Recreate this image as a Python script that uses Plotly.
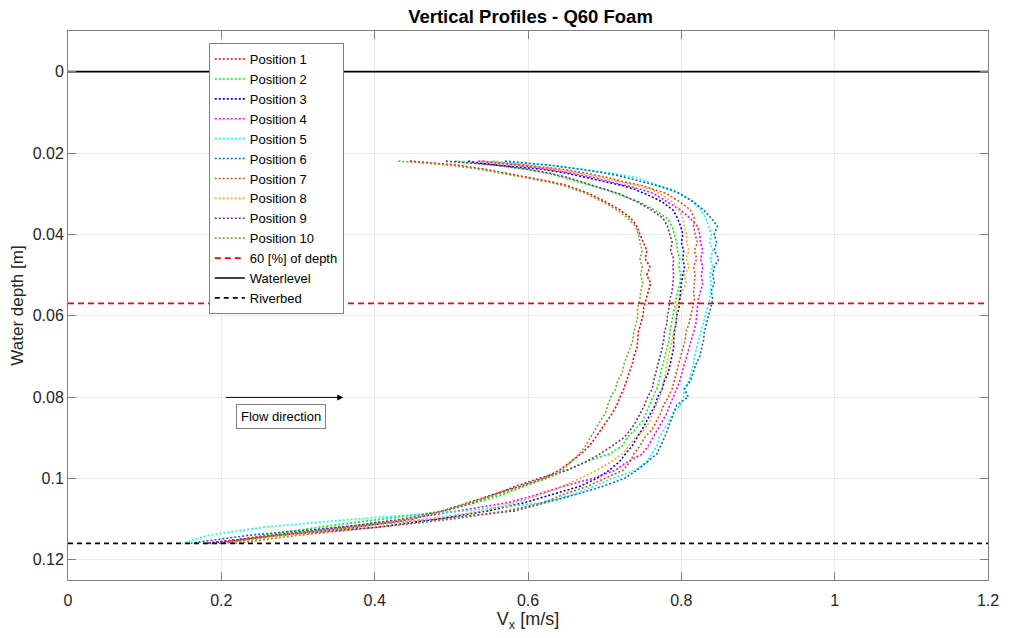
import plotly.graph_objects as go

# Measurement depths below the water surface [m]
depth = [0.022, 0.0225, 0.023, 0.024, 0.025, 0.026, 0.027, 0.028, 0.029, 0.030,
         0.032, 0.034, 0.036, 0.038, 0.040, 0.042, 0.044, 0.046, 0.048, 0.050,
         0.052, 0.054, 0.056, 0.058, 0.060, 0.062, 0.064, 0.066, 0.068, 0.070,
         0.072, 0.074, 0.076, 0.078, 0.080, 0.082, 0.084, 0.086, 0.088, 0.090,
         0.092, 0.094, 0.096, 0.098, 0.100, 0.102, 0.104, 0.106, 0.108, 0.110,
         0.112, 0.114, 0.116]

# Streamwise velocity Vx [m/s] per measuring position
vx_pos1 = [0.446, 0.483, 0.509, 0.544, 0.573, 0.599, 0.628, 0.651, 0.666, 0.680,
           0.701, 0.720, 0.734, 0.742, 0.746, 0.751, 0.755, 0.753, 0.759, 0.755,
           0.760, 0.757, 0.754, 0.751, 0.750, 0.747, 0.744, 0.743, 0.742, 0.738,
           0.736, 0.732, 0.729, 0.725, 0.720, 0.716, 0.710, 0.703, 0.695, 0.688,
           0.680, 0.669, 0.655, 0.641, 0.620, 0.589, 0.554, 0.522, 0.489, 0.450,
           0.376, 0.274, 0.184]
vx_pos2 = [0.505, 0.535, 0.560, 0.597, 0.625, 0.646, 0.664, 0.684, 0.701, 0.716,
           0.745, 0.765, 0.781, 0.788, 0.791, 0.794, 0.795, 0.798, 0.797, 0.799,
           0.798, 0.795, 0.793, 0.791, 0.789, 0.787, 0.785, 0.784, 0.781, 0.779,
           0.776, 0.773, 0.771, 0.768, 0.763, 0.759, 0.754, 0.749, 0.740, 0.729,
           0.723, 0.706, 0.674, 0.651, 0.623, 0.593, 0.567, 0.532, 0.493, 0.411,
           0.327, 0.256, 0.197]
vx_pos3 = [0.522, 0.538, 0.560, 0.619, 0.651, 0.677, 0.699, 0.723, 0.740, 0.753,
           0.775, 0.789, 0.795, 0.799, 0.802, 0.800, 0.803, 0.802, 0.804, 0.802,
           0.800, 0.799, 0.798, 0.797, 0.794, 0.793, 0.791, 0.790, 0.790, 0.788,
           0.785, 0.783, 0.778, 0.775, 0.769, 0.766, 0.760, 0.755, 0.749, 0.742,
           0.736, 0.727, 0.719, 0.706, 0.690, 0.667, 0.632, 0.595, 0.548, 0.483,
           0.405, 0.275, 0.178]
vx_pos4 = [0.535, 0.560, 0.586, 0.625, 0.658, 0.684, 0.706, 0.727, 0.749, 0.764,
           0.781, 0.799, 0.811, 0.821, 0.824, 0.825, 0.828, 0.825, 0.828, 0.826,
           0.828, 0.825, 0.822, 0.821, 0.820, 0.819, 0.816, 0.813, 0.811, 0.808,
           0.804, 0.802, 0.798, 0.794, 0.789, 0.785, 0.781, 0.775, 0.768, 0.762,
           0.757, 0.749, 0.729, 0.714, 0.685, 0.645, 0.612, 0.573, 0.509, 0.444,
           0.360, 0.265, 0.180]
vx_pos5 = [0.554, 0.599, 0.629, 0.671, 0.710, 0.740, 0.755, 0.771, 0.788, 0.799,
           0.815, 0.825, 0.832, 0.835, 0.839, 0.837, 0.841, 0.838, 0.841, 0.837,
           0.839, 0.838, 0.837, 0.834, 0.831, 0.829, 0.825, 0.822, 0.820, 0.817,
           0.816, 0.813, 0.810, 0.804, 0.803, 0.799, 0.789, 0.784, 0.777, 0.771,
           0.768, 0.761, 0.755, 0.740, 0.710, 0.685, 0.658, 0.619, 0.519, 0.375,
           0.256, 0.183, 0.149]
vx_pos6 = [0.570, 0.599, 0.629, 0.668, 0.703, 0.727, 0.749, 0.768, 0.785, 0.798,
           0.816, 0.829, 0.839, 0.847, 0.843, 0.846, 0.843, 0.849, 0.843, 0.841,
           0.843, 0.839, 0.841, 0.838, 0.835, 0.833, 0.830, 0.829, 0.826, 0.824,
           0.819, 0.816, 0.812, 0.804, 0.809, 0.794, 0.790, 0.786, 0.782, 0.778,
           0.773, 0.768, 0.755, 0.742, 0.726, 0.697, 0.662, 0.623, 0.583, 0.483,
           0.353, 0.236, 0.158]
vx_pos7 = [0.541, 0.573, 0.599, 0.645, 0.677, 0.703, 0.723, 0.749, 0.765, 0.781,
           0.798, 0.812, 0.817, 0.816, 0.818, 0.821, 0.817, 0.820, 0.816, 0.818,
           0.817, 0.816, 0.817, 0.815, 0.812, 0.810, 0.806, 0.805, 0.802, 0.799,
           0.797, 0.794, 0.790, 0.788, 0.783, 0.777, 0.773, 0.768, 0.762, 0.752,
           0.746, 0.738, 0.733, 0.724, 0.701, 0.677, 0.646, 0.619, 0.573, 0.502,
           0.405, 0.301, 0.217]
vx_pos8 = [0.538, 0.567, 0.593, 0.636, 0.668, 0.694, 0.719, 0.742, 0.762, 0.772,
           0.788, 0.797, 0.802, 0.804, 0.807, 0.807, 0.810, 0.806, 0.810, 0.804,
           0.806, 0.802, 0.797, 0.793, 0.794, 0.793, 0.790, 0.788, 0.785, 0.783,
           0.781, 0.780, 0.777, 0.775, 0.772, 0.767, 0.763, 0.759, 0.752, 0.740,
           0.732, 0.723, 0.708, 0.690, 0.668, 0.645, 0.616, 0.584, 0.541, 0.470,
           0.379, 0.288, 0.208]
vx_pos9 = [0.493, 0.528, 0.560, 0.599, 0.629, 0.651, 0.668, 0.686, 0.703, 0.719,
           0.742, 0.761, 0.776, 0.782, 0.785, 0.788, 0.786, 0.790, 0.789, 0.790,
           0.789, 0.788, 0.785, 0.784, 0.782, 0.781, 0.778, 0.777, 0.775, 0.772,
           0.769, 0.767, 0.764, 0.762, 0.756, 0.752, 0.747, 0.741, 0.734, 0.725,
           0.710, 0.694, 0.675, 0.651, 0.615, 0.583, 0.556, 0.528, 0.489, 0.437,
           0.358, 0.269, 0.197]
vx_pos10 = [0.431, 0.470, 0.498, 0.537, 0.567, 0.594, 0.623, 0.646, 0.662, 0.676,
            0.697, 0.716, 0.730, 0.740, 0.744, 0.746, 0.749, 0.746, 0.749, 0.747,
            0.750, 0.747, 0.746, 0.743, 0.743, 0.741, 0.738, 0.737, 0.733, 0.729,
            0.725, 0.723, 0.717, 0.714, 0.708, 0.704, 0.701, 0.694, 0.688, 0.682,
            0.675, 0.667, 0.656, 0.645, 0.625, 0.593, 0.560, 0.524, 0.489, 0.446,
            0.372, 0.275, 0.200]

profiles = [vx_pos1, vx_pos2, vx_pos3, vx_pos4, vx_pos5,
            vx_pos6, vx_pos7, vx_pos8, vx_pos9, vx_pos10]
profile_names = [f"Position {i}" for i in range(1, 11)]
profile_colors = ["#FF0000", "#00FF00", "#0000FF", "#FF00FF", "#00FFFF",
                  "#0072BD", "#D95319", "#EDB120", "#7E2F8E", "#77AC30"]

# Reference levels [m]
x_span = [0.0, 1.2]
water_level = 0.0
riverbed_level = 0.116
depth_60 = 0.057

# Flow direction arrow (start / end velocity and depth)
arrow_x = [0.204, 0.359]
arrow_y = 0.0801
arrow_label_pos = (0.278, 0.0849)

FONT = "Liberation Sans, Arial, Helvetica, sans-serif"
AXIS_GREY = "#808080"

fig = go.Figure()

for name, vx, color in zip(profile_names, profiles, profile_colors):
    fig.add_trace(go.Scatter(
        x=vx, y=depth, mode="lines", name=name,
        line=dict(color=color, width=1.6, dash="2px,2px"),
    ))

fig.add_trace(go.Scatter(
    x=x_span, y=[depth_60, depth_60], mode="lines", name="60 [%] of depth",
    line=dict(color="#FF0000", width=1.8, dash="6px,4px"),
))
fig.add_trace(go.Scatter(
    x=x_span, y=[water_level, water_level], mode="lines", name="Waterlevel",
    line=dict(color="#000000", width=1.6),
))
fig.add_trace(go.Scatter(
    x=x_span, y=[riverbed_level, riverbed_level], mode="lines", name="Riverbed",
    line=dict(color="#000000", width=1.6, dash="5px,4px"),
))

# Flow direction arrow and its label
fig.add_annotation(
    x=arrow_x[1], y=arrow_y, ax=arrow_x[0], ay=arrow_y,
    xref="x", yref="y", axref="x", ayref="y",
    showarrow=True, arrowhead=2, arrowsize=1.2, arrowwidth=1,
    arrowcolor="#000000", text="",
)
fig.add_annotation(
    x=arrow_label_pos[0], y=arrow_label_pos[1], xref="x", yref="y",
    text="Flow direction", showarrow=False,
    font=dict(family=FONT, size=13, color="#000000"),
    bordercolor=AXIS_GREY, borderwidth=1, borderpad=4, bgcolor="#FFFFFF",
)

axis_common = dict(
    showline=True, linecolor=AXIS_GREY, linewidth=1, mirror="allticks",
    ticks="inside", ticklen=8, tickcolor=AXIS_GREY, tickwidth=1,
    showgrid=True, gridcolor="#EBEBEB", gridwidth=1, zeroline=False,
    tickfont=dict(family=FONT, size=16, color="#262626"),
)

fig.update_layout(
    width=1011, height=638,
    margin=dict(l=68, r=18, t=31, b=58),
    paper_bgcolor="#FFFFFF", plot_bgcolor="#FFFFFF",
    title=dict(text="<b>Vertical Profiles - Q60 Foam</b>",
               font=dict(family=FONT, size=18.5, color="#000000"),
               x=(68 + 925 / 2) / 1011, xanchor="center", y=1 - 17 / 638, yanchor="middle"),
    xaxis=dict(range=[0, 1.2], dtick=0.2, tick0=0, ticklabelstandoff=6,
               title=dict(text="V<sub>x</sub> [m/s]", standoff=4,
                          font=dict(family=FONT, size=18, color="#262626")),
               **axis_common),
    yaxis=dict(range=[0.125, -0.01], dtick=0.02, tick0=0,
               title=dict(text="Water depth [m]", standoff=4,
                          font=dict(family=FONT, size=17, color="#262626")),
               **axis_common),
    legend=dict(
        x=0.153, y=0.978, xanchor="left", yanchor="top",
        bgcolor="#FFFFFF", bordercolor=AXIS_GREY, borderwidth=1,
        font=dict(family=FONT, size=13, color="#000000"),
        tracegroupgap=0,
    ),
    showlegend=True,
    hovermode=False,
)

fig.write_html("out.html")
